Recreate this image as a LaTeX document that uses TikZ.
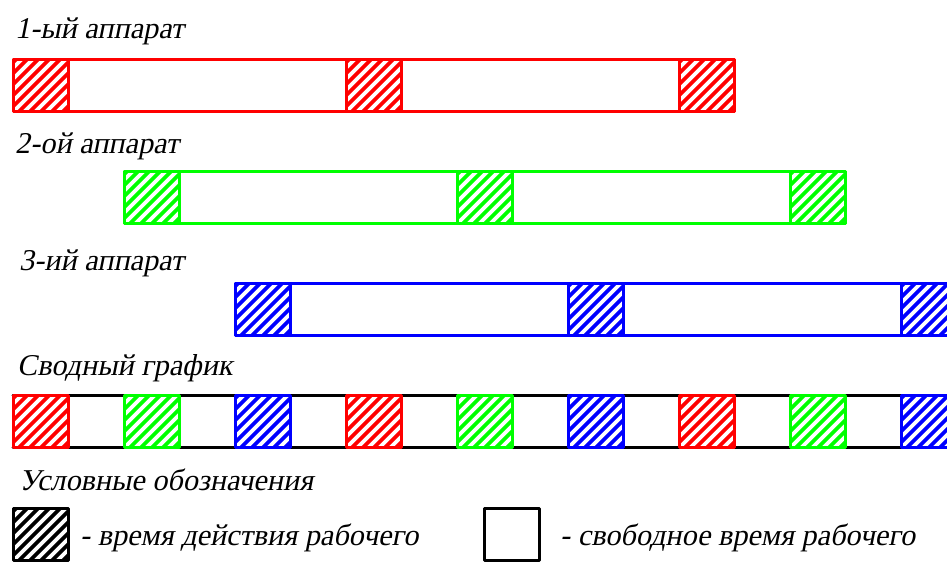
\documentclass[tikz,border=0pt]{standalone}
\usepackage{fontspec}
\setmainfont{Liberation Serif}
\newfontfamily\slantserif{Liberation Serif}[FakeSlant=0.2]

\begin{document}
\begin{tikzpicture}[x=0.03cm, y=-0.03cm,
  bar/.style={line width=0.9mm, line join=round, line cap=round},
  lbl/.style={anchor=base west, inner sep=0pt, font=\slantserif\fontsize{25.8}{30}\selectfont},
  hblock/.pic={
    \begin{scope}
      \clip (0,0) rectangle (55,52);
      \fill[white] (0,0) rectangle (55,52);
      \foreach \d in {-60,-49,...,60} \draw[line width=1.15mm] (\d,52) -- ++(52,-52);
    \end{scope}
    \draw[bar] (0,0) rectangle (55,52);
  }]
\clip (0,0) rectangle (947,563);
\definecolor{FFFFFF}{rgb}{1.00000,1.00000,1.00000}
\definecolor{000000}{rgb}{0.00000,0.00000,0.00000}
\definecolor{FF0000}{rgb}{1.00000,0.00000,0.00000}
\definecolor{00FF00}{rgb}{0.00000,1.00000,0.00000}
\definecolor{0000FF}{rgb}{0.00000,0.00000,1.00000}
\fill[color=FFFFFF] (0,0) rectangle (947,563);
\node[lbl] (lbl1) at (15,38.5) {1-ый аппарат};
\draw[bar, color=FF0000] (13,59.5) rectangle (734,111.5);
\pic[color=FF0000] at (13,59.5) {hblock};
\pic[color=FF0000] at (346,59.5) {hblock};
\pic[color=FF0000] at (679,59.5) {hblock};
\node[lbl] (lbl2) at (15,153.5) {2-ой аппарат};
\draw[bar, color=00FF00] (124,171.5) rectangle (845,223.5);
\pic[color=00FF00] at (124,171.5) {hblock};
\pic[color=00FF00] at (457,171.5) {hblock};
\pic[color=00FF00] at (790,171.5) {hblock};
\node[lbl] (lbl3) at (19,270.5) {3-ий аппарат};
\draw[bar, color=0000FF] (235,283.5) rectangle (970,335.5);
\pic[color=0000FF] at (235,283.5) {hblock};
\pic[color=0000FF] at (568,283.5) {hblock};
\pic[color=0000FF] at (901,283.5) {hblock};
\node[lbl] (lblsum) at (17,375.5) {Сводный график};
\draw[bar, color=000000] (13,395.5) -- (970,395.5);
\draw[bar, color=000000] (13,447.5) -- (970,447.5);
\pic[color=FF0000] at (13,395.5) {hblock};
\pic[color=00FF00] at (124,395.5) {hblock};
\pic[color=0000FF] at (235,395.5) {hblock};
\pic[color=FF0000] at (346,395.5) {hblock};
\pic[color=00FF00] at (457,395.5) {hblock};
\pic[color=0000FF] at (568,395.5) {hblock};
\pic[color=FF0000] at (679,395.5) {hblock};
\pic[color=00FF00] at (790,395.5) {hblock};
\pic[color=0000FF] at (901,395.5) {hblock};
\node[lbl] (lbllegend) at (19,490.5) {Условные обозначения};
\pic[color=000000] at (13,508.5) {hblock};
\node[lbl] (lblbusy) at (80,545) {- время действия рабочего};
\draw[bar, color=000000] (484.5,508.5) rectangle (539.5,560.5);
\node[lbl] (lblfree) at (560,545) {- свободное время рабочего};
\end{tikzpicture}
\end{document}
